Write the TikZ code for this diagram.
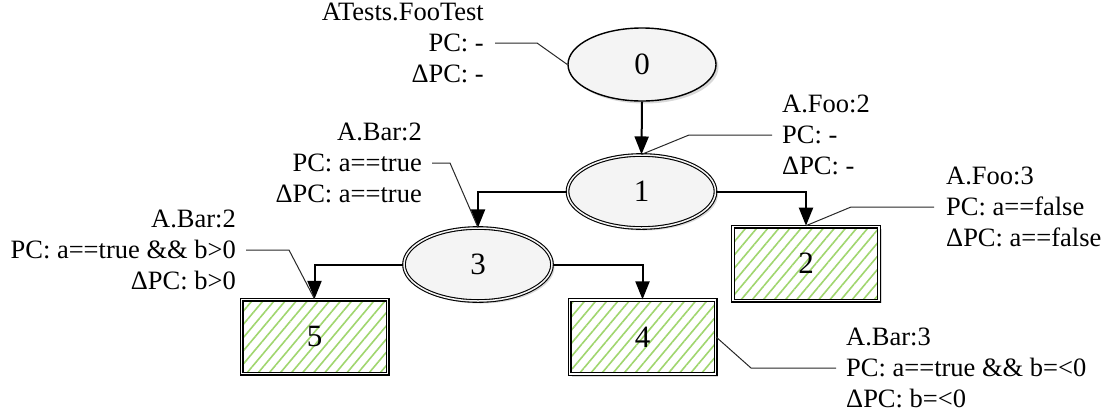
\documentclass[tikz,border=0pt]{standalone}
\usepackage{fontspec}
\setmainfont{Liberation Serif}
\usetikzlibrary{arrows.meta,shapes.geometric,shadows,patterns.meta}
\definecolor{hatch}{RGB}{160,214,110}
\definecolor{nodefill}{RGB}{244,244,244}
\definecolor{callout}{RGB}{40,40,40}
\begin{document}
\begin{tikzpicture}[x=1pt,y=-1pt,
  every node/.style={font=\fontsize{26.5}{31}\selectfont},
  shade/.style={drop shadow={shadow xshift=2.5pt,shadow yshift=-2.5pt,opacity=0.3}},
  state/.style={ellipse,draw,line width=1.4pt,fill=nodefill,
    minimum width=148pt,minimum height=73pt,inner sep=0pt,shade,
    font=\fontsize{31}{36}\selectfont},
  dstate/.style={state,line width=1.1pt,double=nodefill,double distance=1.5pt},
  leaf/.style={rectangle,draw,line width=1.2pt,double=white,double distance=1.6pt,
    minimum width=146pt,minimum height=74pt,inner sep=0pt,shade,
    preaction={fill=white},
    pattern={Lines[angle=50,distance=8.5pt,line width=1.6pt]},pattern color=hatch,
    font=\fontsize{31}{36}\selectfont},
  edge/.style={line width=2pt,-{Triangle[length=18pt,width=14pt]}},
  call/.style={draw=callout,line width=1pt},
  lbl/.style={inner sep=0pt},
]
\useasboundingbox (0,0) rectangle (1116,416);

% tree nodes
\node[state]  (n0) at (642,64.5)  {0};
\node[dstate] (n1) at (641.5,191.5) {1};
\node[dstate] (n3) at (478,264.5) {3};
\node[leaf]   (n2) at (806,263.5) {2};
\node[leaf]   (n4) at (642.5,337) {4};
\node[leaf]   (n5) at (314.5,336.5) {5};

% annotations
\node[lbl,anchor=east,align=right] (l0) at (484,43) {ATests.FooTest\\PC: -\\ΔPC: -};
\node[lbl,anchor=west,align=left]  (l1) at (782,135) {A.Foo:2\\PC: -\\ΔPC: -};
\node[lbl,anchor=west,align=left]  (l2) at (946,207) {A.Foo:3\\PC: a==false\\ΔPC: a==false};
\node[lbl,anchor=east,align=right] (l3) at (422,163) {A.Bar:2\\PC: a==true\\ΔPC: a==true};
\node[lbl,anchor=east,align=right] (l5) at (236,250) {A.Bar:2\\PC: a==true \&\& b>0\\ΔPC: b>0};
\node[lbl,anchor=west,align=left]  (l4) at (846,368) {A.Bar:3\\PC: a==true \&\& b=<0\\ΔPC: b=<0};

% edges
\draw[edge] (n0.south) -- (n1.north);
\draw[edge] (n1.west) -| (n3.north);
\draw[edge] (n1.east) -| (n2.north);
\draw[edge] (n3.west) -| (n5.north);
\draw[edge] (n3.east) -| (n4.north);

% annotation leaders
\draw[call] ([xshift=11pt]l0.east) -- ++(42,0) -- (n0.west);
\draw[call] ([xshift=-10pt]l1.west) -- ++(-83,0) -- (n1.north);
\draw[call] ([xshift=-12pt]l2.west) -- ++(-83,0) -- (n2.north);
\draw[call] ([xshift=10pt]l3.east) -- ++(18,0) -- (n3.north);
\draw[call] ([xshift=10pt]l5.east) -- ++(43,0) -- (n5.north);
\draw[call] (n4.east) -- ([xshift=-95pt]l4.west) -- ([xshift=-10pt]l4.west);
\end{tikzpicture}
\end{document}
